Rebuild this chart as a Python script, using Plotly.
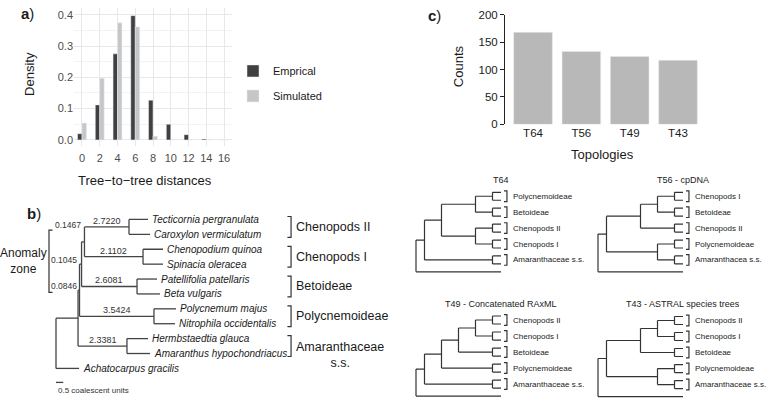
import plotly.graph_objects as go

W, H = 767, 404
FONT = "Liberation Sans, Arial, sans-serif"

# ---- panel a: tree-to-tree distance histogram
dist = [0, 2, 4, 6, 8, 10, 12, 14, 16]
dens_emp = [0.020, 0.112, 0.275, 0.397, 0.127, 0.050, 0.017, 0.003, 0.0]
dens_sim = [0.054, 0.197, 0.374, 0.361, 0.012, 0.001, 0.0, 0.001, 0.0]

# ---- panel c: topology counts
topologies = ["T64", "T56", "T49", "T43"]
counts = [168, 133, 124, 117]

# ---- panel b: species tree (drawn lengths, coalescent units) + branch values
# node = (drawn length, children or tip name, [branch label])
tree_b = (0.0, [
    (1.51, [
        (0.10, [
            (0.14, [
                (0.20, [
                    (3.05, [(1.30, "Tecticornia pergranulata"), (1.44, "Caroxylon vermiculatum")], "2.7220"),
                    (4.01, [(1.37, "Chenopodium quinoa"), (1.37, "Spinacia oleracea")], "2.1102"),
                ]),
                (3.80, [(1.37, "Patellifolia patellaris"), (1.57, "Beta vulgaris")], "2.6081"),
            ]),
            (5.10, [(1.51, "Polycnemum majus"), (1.44, "Nitrophila occidentalis")], "3.5424"),
        ]),
        (3.35, [(1.44, "Hermbstaedtia glauca"), (1.58, "Amaranthus hypochondriacus")], "2.3381"),
    ]),
    (1.58, "Achatocarpus gracilis"),
])
anomaly_values = ["0.1467", "0.1045", "0.0846"]
clades_b = ["Chenopods II", "Chenopods I", "Betoideae", "Polycnemoideae", "Amaranthaceae<br>s.s."]

# ---- panel c: the four topologies ("" = outgroup tip)
topo_trees = {
    "T64": [[[["Polycnemoideae", "Betoideae"], ["Chenopods II", "Chenopods I"]], "Amaranthaceae s.s."], ""],
    "T56 - cpDNA": [[[["Chenopods I", "Betoideae"], "Chenopods II"], ["Polycnemoideae", "Amaranthacea s.s."]], ""],
    "T49 - Concatenated RAxML": [[[[["Chenopods II", "Chenopods I"], "Betoideae"], "Polycnemoideae"], "Amaranthaceae s.s."], ""],
    "T43 - ASTRAL species trees": [[[["Chenopods II", "Chenopods I"], "Betoideae"], ["Polycnemoideae", "Amaranthaceae s.s."]], ""],
}


def phylo(node, x0, xs, ys, tips, stems):
    x1 = x0 + node[0]
    kids = node[1]
    if isinstance(kids, str):
        y = len(tips)
        tips.append((kids, x1, y))
    else:
        kys = [phylo(k, x1, xs, ys, tips, stems) for k in kids]
        y = (kys[0] + kys[-1]) / 2
        xs += [x1, x1, None]
        ys += [kys[0], kys[-1], None]
    xs += [x0, x1, None]
    ys += [y, y, None]
    if len(node) > 2:
        stems.append((node[2], (x0 + x1) / 2, y))
    return y


def n_tips(node):
    if isinstance(node, str):
        return 2 if node else 1
    return sum(n_tips(k) for k in node)


def clado(node, x0, xs, ys, count, clades):
    x1 = -(n_tips(node) - 1)
    if isinstance(node, str):
        if node:
            y1 = count[0]
            count[0] += 2
            y = y1 + 0.5
            xs += [x1, x1, None, x1, 0, None, x1, 0, None]
            ys += [y1, y1 + 1, None, y1, y1, None, y1 + 1, y1 + 1, None]
            clades.append((node, y))
        else:
            y = count[0]
            count[0] += 1
    else:
        kys = [clado(k, x1, xs, ys, count, clades) for k in node]
        y = (kys[0] + kys[-1]) / 2
        xs += [x1, x1, None]
        ys += [kys[0], kys[-1], None]
    xs += [x0, x1, None]
    ys += [y, y, None]
    return y


def dx(p0, p1):
    return [p0 / W, p1 / W]


def dy(p0, p1):
    return [1 - p1 / H, 1 - p0 / H]


def pa(px, py, text, size, **kw):
    return dict(xref="paper", yref="paper", x=px / W, y=1 - py / H, text=text, showarrow=False,
                xanchor="center", yanchor="middle",
                font=dict(family=FONT, size=size, color=kw.pop("color", "#1a1a1a")), **kw)


fig = go.Figure()
ann = []

# panel a
fig.add_trace(go.Bar(x=dist, y=dens_emp, name="Emprical", marker_color="#404040",
                     width=0.5, offset=-0.5, legendgroup="e"))
fig.add_trace(go.Bar(x=dist, y=dens_sim, name="Simulated", marker_color="#c6c6c6",
                     width=0.5, offset=0, legendgroup="s"))

# panel c bars
fig.add_trace(go.Bar(x=topologies, y=counts, marker_color="#b8b8b8", width=0.8,
                     xaxis="x2", yaxis="y2", showlegend=False))

# panel b tree
xs, ys, tips, stems = [], [], [], []
phylo(tree_b, 0.0, xs, ys, tips, stems)
fig.add_trace(go.Scatter(x=xs, y=ys, mode="lines", line=dict(color="#444", width=1.3),
                         xaxis="x3", yaxis="y3", showlegend=False, hoverinfo="skip"))
# scale bar
fig.add_trace(go.Scatter(x=[0, 0.5], y=[10.94, 10.94], mode="lines", line=dict(color="#444", width=1.3),
                         xaxis="x3", yaxis="y3", showlegend=False, hoverinfo="skip"))
for name, x, y in tips:
    ann.append(dict(xref="x3", yref="y3", x=x, y=y, text="<i>%s</i>" % name, showarrow=False,
                    xanchor="left", yanchor="middle", xshift=2,
                    font=dict(family=FONT, size=10, color="#1a1a1a")))
for lab, x, y in stems:
    ann.append(dict(xref="x3", yref="y3", x=x, y=y, text=lab, showarrow=False,
                    xanchor="center", yanchor="middle", yshift=6,
                    font=dict(family=FONT, size=9, color="#333")))
for lab, (x, y) in zip(anomaly_values, [(1.95, 0.4), (1.61, 2.7), (1.61, 4.5)]):
    ann.append(dict(xref="x3", yref="y3", x=x, y=y, text=lab, showarrow=False,
                    xanchor="right", yanchor="middle", xshift=-1,
                    font=dict(family=FONT, size=8.5, color="#333")))
# clade brackets
bx, by = [], []
for i, lab in enumerate(clades_b):
    top, bot = 2 * i - 0.2, 2 * i + 1.2
    bx += [15.85, 16.1, 16.1, 15.85, None]
    by += [top, top, bot, bot, None]
    ann.append(dict(xref="x3", yref="y3", x=16.3, y=2 * i + 0.5 if i < 4 else 9.1, text=lab,
                    showarrow=False, xanchor="left", yanchor="middle",
                    font=dict(family=FONT, size=12.5, color="#1a1a1a")))
# anomaly zone bracket
bx += [-0.24, -0.48, -0.48, -0.24, None]
by += [0.72, 0.72, 4.89, 4.89, None]
fig.add_trace(go.Scatter(x=bx, y=by, mode="lines", line=dict(color="#333", width=1.2),
                         xaxis="x3", yaxis="y3", showlegend=False, hoverinfo="skip"))
ann.append(pa(23.5, 263, "Anomaly<br>zone", 12))
ann.append(dict(xref="x3", yref="y3", x=0, y=11.46, text="0.5 coalescent units", showarrow=False,
                xanchor="left", yanchor="middle", font=dict(family=FONT, size=8, color="#333")))

# panel c small trees
for k, (title, tree) in enumerate(topo_trees.items()):
    ax = str(k + 4)
    xs, ys, cl = [], [], []
    clado(tree, -(n_tips(tree) - 1), xs, ys, [0], cl)
    for lab, y in cl:
        xs += [0.35, 0.7, 0.7, 0.35, None]
        ys += [y - 0.67, y - 0.67, y + 0.67, y + 0.67, None]
        ann.append(dict(xref="x" + ax, yref="y" + ax, x=1.2, y=y, text=lab, showarrow=False,
                        xanchor="left", yanchor="middle", font=dict(family=FONT, size=8, color="#222")))
    fig.add_trace(go.Scatter(x=xs, y=ys, mode="lines", line=dict(color="#333", width=1.2),
                             xaxis="x" + ax, yaxis="y" + ax, showlegend=False, hoverinfo="skip"))
    ann.append(dict(xref="x" + ax, yref="y" + ax, x=0, y=-1.5, text=title, showarrow=False,
                    xanchor="center", yanchor="middle", font=dict(family=FONT, size=9, color="#222")))

# titles and panel letters
ann += [
    pa(28, 8, "<b>a</b>)", 15),
    pa(34, 214, "<b>b</b>)", 15),
    pa(434, 10, "<b>c</b>)", 15),
    pa(30, 70, "Density", 13, textangle=-90),
    pa(145, 180, "Tree\u2212to\u2212tree distances", 13),
    pa(458, 62, "Counts", 13, textangle=-90),
    pa(602, 153, "Topologies", 13),
]

hidden = dict(visible=False, showgrid=False, zeroline=False)
fig.update_layout(
    width=W, height=H, autosize=False, margin=dict(l=0, r=0, t=0, b=0),
    paper_bgcolor="white", plot_bgcolor="white", barmode="overlay",
    font=dict(family=FONT, color="#1a1a1a"),
    xaxis=dict(domain=dx(74, 232), range=[-0.9, 16.9], tickvals=dist, showgrid=True,
               gridcolor="#e8e8e8", zeroline=False, ticks="", anchor="y", ticklabelstandoff=4,
               tickfont=dict(size=11, color="#4d4d4d")),
    yaxis=dict(domain=dy(2.5, 144.5), range=[-0.02, 0.42], tickvals=[0, 0.1, 0.2, 0.3, 0.4],
               ticktext=["0.0", "0.1", "0.2", "0.3", "0.4"], showgrid=True, gridcolor="#e8e8e8",
               zeroline=False, ticks="", anchor="x", tickfont=dict(size=11, color="#4d4d4d"),
               minor=dict(dtick=0.05, showgrid=True, gridcolor="#f3f3f3")),
    xaxis2=dict(domain=dx(505, 707), range=[-0.58, 3.6], anchor="y2", showline=False, ticks="",
                showgrid=False, zeroline=False, tickfont=dict(size=11.5, color="#1a1a1a")),
    yaxis2=dict(domain=dy(9, 122), range=[0, 200], anchor="x2", showline=True, linecolor="#222",
                linewidth=1, ticks="outside", ticklen=4, tickcolor="#222", showgrid=False,
                zeroline=False, tickvals=[0, 50, 100, 150, 200], tickfont=dict(size=11.5, color="#1a1a1a")),
    xaxis3=dict(domain=dx(0, 400), range=[-56 / 14.6, (400 - 56) / 14.6], anchor="y3", **hidden),
    yaxis3=dict(domain=dy(190, 404), range=[(404 - 220) / 15.35, (190 - 220) / 15.35], anchor="x3", **hidden),
    xaxis4=dict(domain=dx(405, 585), range=[(405 - 501) / 8.5, (585 - 501) / 8.5], anchor="y4", **hidden),
    yaxis4=dict(domain=dy(172, 285), range=[(285 - 192) / 8.2, (172 - 192) / 8.2], anchor="x4", **hidden),
    xaxis5=dict(domain=dx(585, 767), range=[(585 - 683) / 8.5, (767 - 683) / 8.5], anchor="y5", **hidden),
    yaxis5=dict(domain=dy(172, 285), range=[(285 - 192) / 8.2, (172 - 192) / 8.2], anchor="x5", **hidden),
    xaxis6=dict(domain=dx(405, 585), range=[(405 - 501) / 8.5, (585 - 501) / 8.5], anchor="y6", **hidden),
    yaxis6=dict(domain=dy(296, 404), range=[(404 - 319.5) / 8.25, (296 - 319.5) / 8.25], anchor="x6", **hidden),
    xaxis7=dict(domain=dx(585, 767), range=[(585 - 683) / 8.5, (767 - 683) / 8.5], anchor="y7", **hidden),
    yaxis7=dict(domain=dy(296, 404), range=[(404 - 320) / 8.25, (296 - 320) / 8.25], anchor="x7", **hidden),
    legend=dict(x=233 / W, y=1 - 52 / H, xanchor="left", yanchor="top", tracegroupgap=6,
                font=dict(size=11, color="#1a1a1a"), bgcolor="rgba(0,0,0,0)"),
    annotations=ann,
)

# drop the default page margin so the figure sits at the window's corner
fig.write_html("out.html", config={"displayModeBar": False},
               post_script="document.body.style.margin='0';")
